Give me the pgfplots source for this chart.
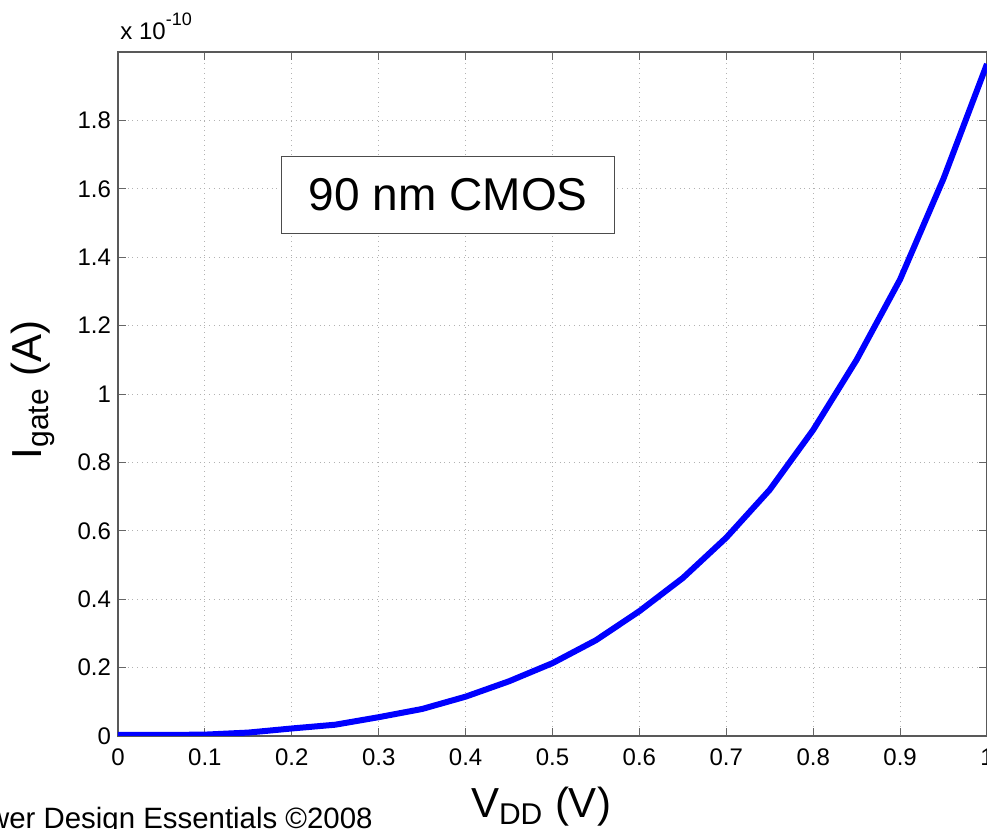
\documentclass[border=0pt]{standalone}
\usepackage{pgfplots}
\pgfplotsset{compat=1.18}
\usepackage{fontspec}
\setmainfont{Liberation Sans}
\begin{document}
\begin{tikzpicture}[x=1pt,y=1pt]
\useasboundingbox (-59pt,-46.5pt) rectangle (434.5pt,368pt);
\clip (-59pt,-46.5pt) rectangle (434.5pt,368pt);
\begin{pgfinterruptboundingbox}
\begin{axis}[
  at={(0,0)}, anchor=south west,
  scale only axis, width=434.5pt, height=342pt,
  xmin=0, xmax=1, ymin=0, ymax=2,
  xtick={0,0.1,...,1.0}, ytick={0,0.2,...,1.8},
  xticklabels={0,0.1,0.2,0.3,0.4,0.5,0.6,0.7,0.8,0.9,1},
  yticklabels={0,0.2,0.4,0.6,0.8,1,1.2,1.4,1.6,1.8},
  tick align=inside, major tick length=4pt,
  tick style={gray!80!black, line width=0.4pt},
  xtick pos=both, ytick pos=both,
  axis line style={gray!70!black, line width=0.6pt},
  grid=major, grid style={dotted, gray!60, line width=0.4pt},
  /pgf/number format/assume math mode=true,
  tick label style={font=\fontsize{12}{14}\selectfont},
  xticklabel style={yshift=-3pt},
  clip=true,
]
\addplot[blue, line width=3pt] coordinates {
(0,0.003) (0.05,0.003) (0.1,0.004) (0.15,0.01) (0.2,0.022) (0.25,0.033)
(0.3,0.055) (0.35,0.079) (0.4,0.115) (0.45,0.16) (0.5,0.213) (0.55,0.28)
(0.6,0.365) (0.65,0.462) (0.7,0.58) (0.75,0.72) (0.8,0.895) (0.85,1.10)
(0.9,1.335) (0.95,1.63) (1.0,1.965)
};
\node[draw=gray!60!black, line width=0.6pt, fill=white, minimum width=166.5pt, minimum height=38.5pt, inner sep=0pt, font=\fontsize{23}{26}\selectfont] at (axis cs:0.38,1.582) {90 nm CMOS};
\end{axis}
\node[anchor=base west, inner sep=0pt, font=\fontsize{12}{14}\selectfont] at (1pt,348pt) {x 10\raisebox{7pt}{\fontsize{9}{10}\selectfont -10}};
\node[anchor=base, inner sep=0pt, font=\fontsize{21}{24}\selectfont] at (211.5pt,-41pt) {V\textsubscript{\fontsize{15}{16}\selectfont DD} (V)};
\node[anchor=base, rotate=90, inner sep=0pt, font=\fontsize{21}{24}\selectfont] at (-38pt,173pt) {I\textsubscript{\fontsize{15}{16}\selectfont gate} (A)};
\node[anchor=base east, inner sep=0pt, font=\fontsize{14.7}{16}\selectfont] at (127.5pt,-46.5pt) {Low Power Design Essentials ©2008};
\end{pgfinterruptboundingbox}
\end{tikzpicture}
\end{document}
